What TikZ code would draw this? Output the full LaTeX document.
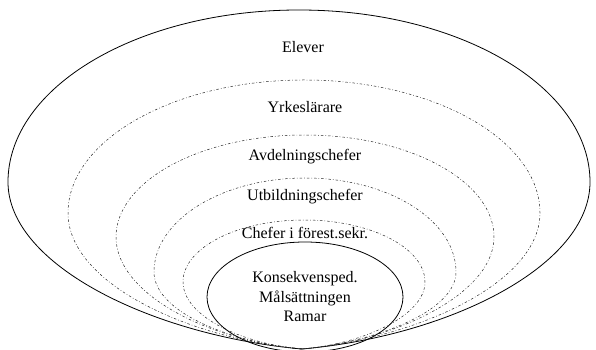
\documentclass[tikz,border=0pt]{standalone}
\usepackage{fontspec}
\setmainfont{Liberation Serif}
\usetikzlibrary{shapes.geometric}

\begin{document}
\begin{tikzpicture}[x=1pt, y=1pt,
	rim/.style={line width=0.8pt},
	layer/.style={line width=0.5pt, black!85, dash pattern={on 2.5pt off 2pt on 0.7pt off 2pt}},
	tag/.style={font=\fontsize{16}{19.5}\selectfont, align=center, inner sep=0pt}]
	% Frame and meeting point:
	\useasboundingbox (0, 0) rectangle (596, 350);
	\coordinate (B) at (302, 1);
	% Outer rim:
	\draw[rim] (B) .. controls (155, 14) and (8, 84) .. (8, 168) .. controls (8, 263) and (138, 340) .. (299, 340) .. controls (460, 340) and (590, 263) .. (590, 168) .. controls (590, 84) and (449, 14) .. (B);
	% Dotted layers:
	\draw[layer] (B) .. controls (185, 12) and (68, 68) .. (68, 137) .. controls (68, 210) and (174, 270) .. (304, 270) .. controls (434, 270) and (540, 210) .. (540, 137) .. controls (540, 68) and (419, 12) .. (B);
	\draw[layer] (B) .. controls (209, 9) and (116, 56) .. (116, 113) .. controls (116, 169) and (201, 215) .. (305, 215) .. controls (409, 215) and (494, 169) .. (494, 113) .. controls (494, 56) and (395, 9) .. (B);
	\draw[layer] (B) .. controls (228, 8) and (154, 39) .. (154, 78) .. controls (154, 130) and (222, 172) .. (305, 172) .. controls (388, 172) and (456, 130) .. (456, 78) .. controls (456, 39) and (376, 8) .. (B);
	\draw[layer] (B) .. controls (242, 6) and (183, 34) .. (183, 68) .. controls (183, 102) and (237, 130) .. (304, 130) .. controls (371, 130) and (425, 102) .. (425, 68) .. controls (425, 34) and (362, 6) .. (B);
	% Core:
	\node[shape=ellipse, draw, rim, minimum width=196pt, minimum height=110pt, tag] (core) at (305, 53) {Konsekvensped.\\Målsättningen\\Ramar};
	% Labels:
	\node[tag] (elever) at (303, 303) {Elever};
	\node[tag] (yrkes) at (305, 243) {Yrkeslärare};
	\node[tag] (avd) at (305, 193) {Avdelningschefer};
	\node[tag] (utb) at (305, 153) {Utbildningschefer};
	\node[tag] (chef) at (305, 117) {Chefer i förest.sekr.};
\end{tikzpicture}
\end{document}
